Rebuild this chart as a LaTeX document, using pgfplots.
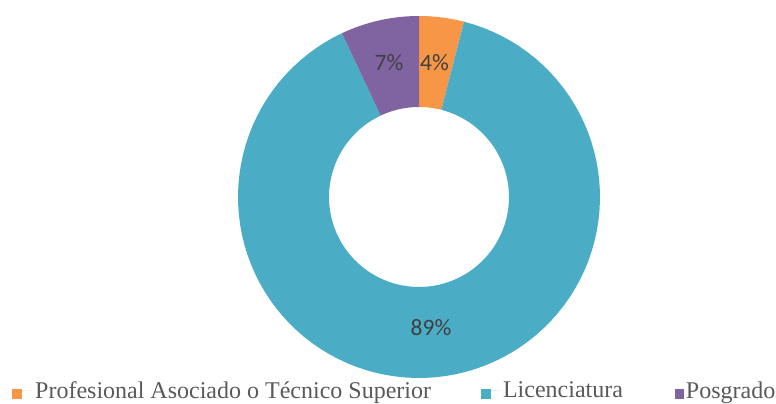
\documentclass[border=0pt]{standalone}
\usepackage{pgfplots}
\pgfplotsset{compat=1.18}
\usepackage{fontspec}
\setmainfont{Liberation Serif}
\newfontfamily\carlito{Carlito}
\definecolor{cOr}{HTML}{F79646}
\definecolor{cBl}{HTML}{4BACC6}
\definecolor{cPu}{HTML}{8064A2}
\definecolor{lblgray}{HTML}{404040}
\definecolor{leggray}{HTML}{595959}
% donut segment: colour, start (%), share (%), legend square width, legend gap
\newcommand{\seg}[5]{%
  \addplot[fill=#1, draw=none, domain=0:201, samples=202, variable=\t,
    legend image code/.code={\fill[#1] (0bp,-8bp) rectangle (#4bp,2bp);
      \path (0bp,0bp) -- (#5bp,0bp);}]
  ({419+ifthenelse(\t<100.5,181,90)*cos(90-3.6*(#2+#3*ifthenelse(\t<100.5,\t,201-\t)/100))},
   {207+ifthenelse(\t<100.5,181,90)*sin(90-3.6*(#2+#3*ifthenelse(\t<100.5,\t,201-\t)/100))});
}
\begin{document}
\begin{tikzpicture}
\path[use as bounding box] (0,0) rectangle (776bp,404bp);
\begin{axis}[hide axis, scale only axis, x=1bp, y=1bp,
  xmin=0, xmax=776, ymin=0, ymax=404, clip=false,
  at={(0,0)}, anchor=south west,
  legend columns=3,
  legend cell align=left,
  legend style={at={(axis cs:12,2)}, anchor=south west, draw=none, fill=none,
    inner sep=0pt, text=leggray,
    font=\fontsize{24bp}{28bp}\selectfont,
    /tikz/column 2/.append style={column sep=48bp},
    /tikz/column 4/.append style={column sep=50bp}},
]
\seg{cOr}{0}{4}{10}{21}
\addlegendentry{Profesional Asociado o Técnico Superior}
\seg{cBl}{4}{89}{10}{20}
\addlegendentry{Licenciatura}
\seg{cPu}{93}{7}{9}{8}
\addlegendentry{Posgrado}
\addplot[draw=none, mark=none, forget plot, nodes near coords,
  point meta=explicit symbolic,
  every node near coord/.append style={anchor=base, inner sep=0pt,
    font=\carlito\fontsize{23.5bp}{28bp}\selectfont, text=lblgray}]
  coordinates {(434.5,334)[4\%] (389,334)[7\%] (431,69)[89\%]};
\end{axis}
\end{tikzpicture}
\end{document}
